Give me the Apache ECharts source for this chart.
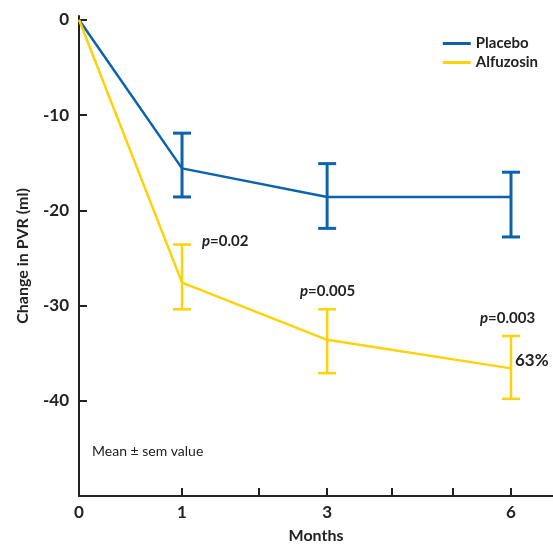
<!DOCTYPE html>
<html>
<head>
<meta charset="utf-8">
<script src="https://cdn.jsdelivr.net/npm/echarts@6/dist/echarts.min.js"></script>
<style>html,body{margin:0;padding:0;background:#fff;}#c{width:553px;height:549px;}</style>
</head>
<body>
<div id="c"></div>
<script>
// ---- data ----
const months = [0, 1, 3, 6];
const placeboMean  = [0, -15.6, -18.6, -18.6];
const placeboUpper = [null, -11.9, -15.1, -16.0];
const placeboLower = [null, -18.6, -21.9, -22.8];
const alfuMean  = [0, -27.6, -33.6, -36.6];
const alfuUpper = [null, -23.6, -30.4, -33.2];
const alfuLower = [null, -30.4, -37.1, -39.8];
const xTickMonths = [1, 2, 3, 4, 5, 6];
const xLabelMonths = [0, 1, 3, 6];
const yTickLabels = [0, -10, -20, -30, -40];
const pLabels = ['0.02', '0.005', '0.003'];

// the original month axis is compressed (power scale)
const P = 0.8;
const fx = m => Math.pow(m, P);
const inv = v => Math.round(Math.pow(v, 1 / P));

const FONT = 'Lato, "Noto Sans", sans-serif';
const BLUE = '#0c62ad';
const YEL = '#fdd20a';
const INK = '#222222';

function seriesPts(mean) { return months.map((m, i) => [fx(m), mean[i]]); }
function errPts(up, lo) {
  const out = [];
  months.forEach((m, i) => { if (up[i] != null) out.push([fx(m), up[i], lo[i]]); });
  return out;
}
function errSeries(name, pts, color, w) {
  return {
    type: 'custom', name: name + '_err', data: pts, z: 3, silent: true,
    renderItem: function (params, api) {
      const x = api.value(0);
      const a = api.coord([x, api.value(1)]);
      const b = api.coord([x, api.value(2)]);
      const hw = 9;
      const st = { stroke: color, lineWidth: w };
      return { type: 'group', children: [
        { type: 'line', shape: { x1: a[0], y1: a[1], x2: b[0], y2: b[1] }, style: st },
        { type: 'line', shape: { x1: a[0] - hw, y1: a[1], x2: a[0] + hw, y2: a[1] }, style: st },
        { type: 'line', shape: { x1: b[0] - hw, y1: b[1], x2: b[0] + hw, y2: b[1] }, style: st }
      ]};
    }
  };
}

const chart = echarts.init(document.getElementById('c'), null, { renderer: 'canvas' });
const pRich = { i: { fontStyle: 'italic', fontSize: 15, fontFamily: FONT, fill: INK, fontWeight: 'bold' } };
function ptext(x, y, v) {
  return { type: 'text', left: x, top: y, style: { text: '{i|p}=' + v, rich: pRich, fontSize: 15, fontFamily: FONT, fill: INK, fontWeight: 'bold' } };
}
chart.setOption({
  animation: false,
  backgroundColor: '#ffffff',
  grid: { left: 79, right: 0, top: 16, bottom: 48 },
  legend: {
    orient: 'vertical', right: 10, top: 31, itemWidth: 28, itemHeight: 3, itemGap: 4,
    icon: 'rect',
    textStyle: { fontFamily: FONT, fontSize: 15, color: INK, fontWeight: 'bold' },
    data: ['Placebo', 'Alfuzosin']
  },
  xAxis: {
    type: 'value', min: 0, max: fx(6) * 474 / 432,
    name: 'Months', nameLocation: 'middle', nameGap: 32,
    nameTextStyle: { fontFamily: FONT, fontSize: 16, fontWeight: 'bold', color: INK },
    axisLine: { show: true, onZero: false, lineStyle: { color: INK, width: 2 } },
    splitLine: { show: false },
    axisTick: { show: true, inside: true, length: 8, lineStyle: { color: INK, width: 2 }, customValues: xTickMonths.map(fx) },
    axisLabel: { customValues: xLabelMonths.map(fx), formatter: v => String(inv(v)), fontFamily: FONT, fontSize: 17, fontWeight: 'bold', color: INK, margin: 8 }
  },
  yAxis: {
    type: 'value', min: -50, max: 0.4,
    name: 'Change in PVR (ml)', nameLocation: 'middle', nameGap: 48, nameRotate: 90,
    nameTextStyle: { fontFamily: FONT, fontSize: 16, fontWeight: 'bold', color: INK },
    axisLine: { show: true, onZero: false, lineStyle: { color: INK, width: 2 } },
    splitLine: { show: false },
    axisTick: { show: true, inside: true, length: 8, lineStyle: { color: INK, width: 2 }, customValues: yTickLabels },
    axisLabel: { customValues: yTickLabels, fontFamily: FONT, fontSize: 17, fontWeight: 'bold', color: INK, margin: 10 }
  },
  series: [
    { type: 'line', name: 'Placebo', data: seriesPts(placeboMean), symbol: 'none', z: 4,
      lineStyle: { color: BLUE, width: 2.5 }, itemStyle: { color: BLUE } },
    { type: 'line', name: 'Alfuzosin', data: seriesPts(alfuMean), symbol: 'none', z: 4,
      lineStyle: { color: YEL, width: 2.5 }, itemStyle: { color: YEL } },
    errSeries('Placebo', errPts(placeboUpper, placeboLower), BLUE, 3),
    errSeries('Alfuzosin', errPts(alfuUpper, alfuLower), YEL, 2.5)
  ],
  graphic: [
    ptext(202, 234, pLabels[0]),
    ptext(300, 284, pLabels[1]),
    ptext(480, 311, pLabels[2]),
    { type: 'text', left: 515, top: 352, style: { text: '63%', fontSize: 17, fontFamily: FONT, fill: INK, fontWeight: 'bold' } },
    { type: 'text', left: 92, top: 444, style: { text: 'Mean ± sem value', fontSize: 14, fontFamily: FONT, fill: INK } }
  ]
});
</script>
</body>
</html>
